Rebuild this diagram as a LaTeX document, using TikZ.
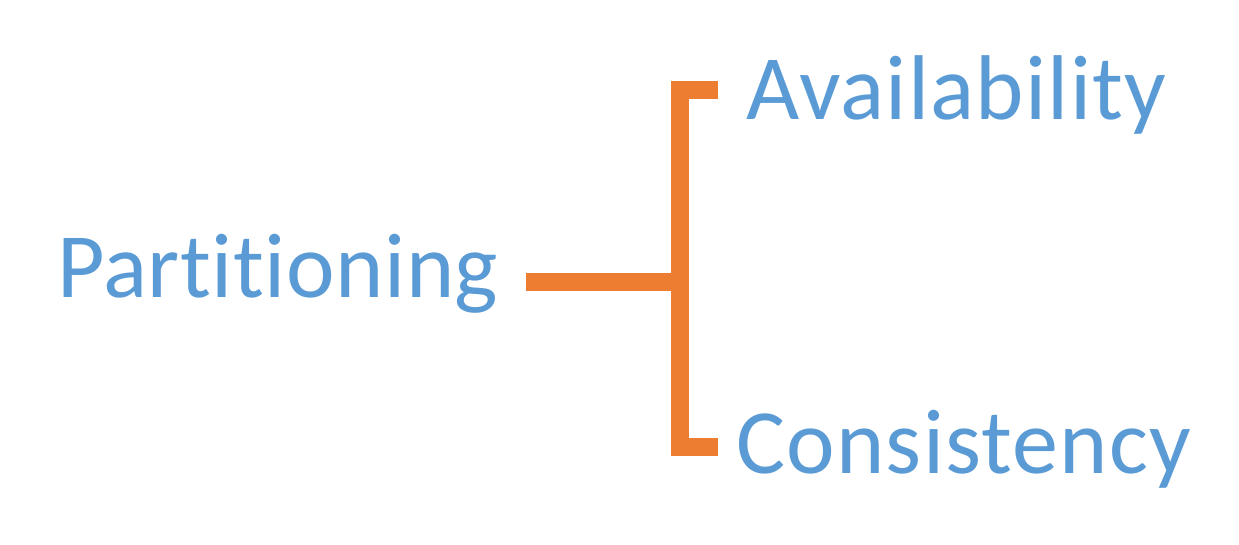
\documentclass[tikz,border=0pt]{standalone}
\usepackage{fontspec}
\setmainfont{Carlito}[Ligatures=NoCommon, LetterSpace=1.4]
\usepackage{tikz}
\usetikzlibrary{positioning,calc}
\definecolor{CapBlue}{HTML}{5B9BD5}
\definecolor{CapOrange}{HTML}{ED7D31}

\begin{document}
\begin{tikzpicture}[x=1pt, y=-1pt,
  term/.style={inner sep=0pt, text=CapBlue, anchor=base west,
    font=\fontsize{92}{110}\selectfont},
  link/.style={draw=CapOrange, line width=18pt, line join=miter}]
  \useasboundingbox (0,0) rectangle (1239,545);
  \node[term] (part) at (57,298) {\addfontfeature{LetterSpace=0.6}Partitioning};
  \node[term] (avail) at (746,120) {Availability};
  \node[term] (cons) at (736,473) {Consistency};
  % fork of the bracket
  \coordinate (fork) at (680,282);
  \coordinate (top) at (680,90);
  \coordinate (bot) at (680,447);
  \draw[link] ($(part.base east)+(27,-16)$) -- ([xshift=9pt]fork);
  \draw[link] ([xshift=38pt]top) -- (top) -- (bot) -- ++(38,0);
\end{tikzpicture}
\end{document}
